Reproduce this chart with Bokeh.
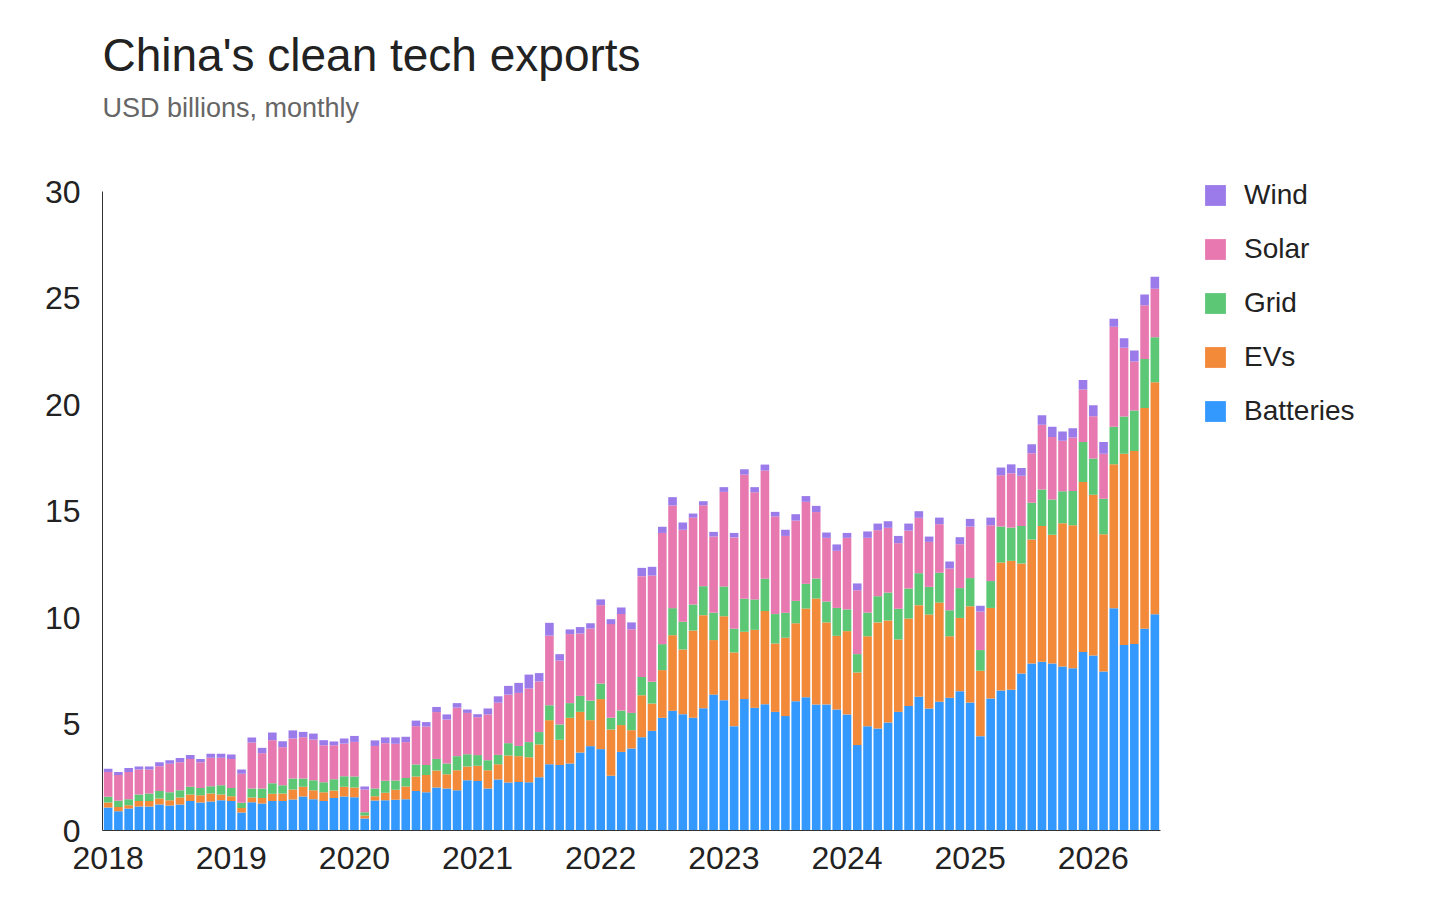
from bokeh.plotting import figure
from bokeh.models import Title, Legend, LegendItem, ColumnDataSource, FixedTicker
from bokeh.embed import file_html
from bokeh.resources import INLINE

months = [f"{2018 + i // 12}-{i % 12 + 1:02d}" for i in range(103)]
years = ["2018", "2019", "2020", "2021", "2022", "2023", "2024", "2025", "2026"]

batteries = [1.08,.90,1.03,1.13,1.13,1.22,1.17,1.22,1.39,1.31,1.36,1.42,1.38,.85,1.33,1.27,1.38,1.38,1.46,1.60,1.47,1.38,1.52,1.60,
 1.56,.56,1.41,1.42,1.44,1.47,1.85,1.80,2.02,1.97,1.89,2.36,2.32,1.97,2.39,2.25,2.28,2.27,2.50,3.11,3.07,3.15,3.66,3.96,
 3.82,2.57,3.69,3.85,4.38,4.68,5.29,5.62,5.46,5.29,5.74,6.38,6.12,4.90,6.17,5.76,5.93,5.57,5.37,6.07,6.26,5.92,5.92,5.68,
 5.45,4.01,4.90,4.79,5.07,5.57,5.84,6.28,5.73,6.04,6.23,6.54,6.01,4.43,6.20,6.57,6.61,7.37,7.84,7.92,7.84,7.70,7.62,8.38,
 8.22,7.47,10.44,8.71,8.76,9.47,10.15]
evs = [.23,.20,.16,.25,.25,.28,.25,.33,.30,.35,.38,.27,.23,.21,.22,.25,.34,.36,.46,.45,.42,.42,.36,.45,
 .46,.14,.20,.35,.47,.60,.69,.80,.80,.67,.94,.64,.72,.86,.72,1.27,1.21,1.17,1.54,2.07,1.19,2.14,1.91,1.22,
 2.35,2.17,1.26,.86,1.97,1.28,2.24,3.55,3.04,4.10,4.37,2.56,3.94,3.46,3.16,3.66,4.37,3.21,3.68,3.66,4.16,4.97,3.85,3.46,
 3.91,3.41,4.22,4.98,4.79,3.40,4.11,4.30,4.41,4.66,2.89,3.44,4.52,3.07,4.25,6.01,6.05,5.17,5.82,6.38,6.04,6.72,6.71,7.98,
 7.54,6.44,6.75,8.98,9.06,10.37,10.90]
grid = [.27,.30,.28,.31,.36,.36,.38,.34,.36,.34,.34,.44,.39,.24,.42,.45,.50,.39,.52,.39,.47,.47,.53,.50,
 .51,.16,.36,.56,.44,.40,.56,.47,.54,.51,.66,.58,.50,.47,.44,.58,.48,.71,.58,.70,.72,.69,.75,.92,
 .73,.55,.68,.81,.86,1.02,1.22,1.27,1.30,1.22,1.36,1.29,1.40,1.11,1.55,1.43,1.52,1.38,1.17,1.05,1.16,.94,.98,1.31,
 1.02,.86,1.11,1.23,1.31,1.44,1.41,1.50,1.30,1.40,1.22,1.40,1.32,.97,1.26,1.69,1.56,1.76,1.73,1.71,1.66,1.51,1.61,1.88,
 1.70,1.67,1.76,1.75,1.90,2.30,2.11]
solar = [1.17,1.20,1.28,1.17,1.12,1.16,1.33,1.31,1.31,1.20,1.33,1.28,1.36,1.36,2.16,1.66,2.02,1.78,1.88,1.94,1.91,1.73,1.59,1.53,
 1.63,1.06,2.00,1.77,1.72,1.68,1.80,1.81,2.20,2.06,2.28,1.94,1.78,2.15,2.45,2.28,2.49,2.52,2.38,3.27,3.00,3.24,2.93,3.38,
 3.68,4.40,4.53,3.93,4.73,4.99,5.22,4.82,4.32,4.08,3.80,3.57,4.44,4.29,5.83,5.03,5.08,4.58,3.61,3.77,3.85,3.12,2.99,2.68,
 3.36,3.00,3.51,3.10,3.04,3.08,2.72,2.60,2.11,2.28,1.96,2.06,2.42,1.81,2.62,2.41,2.55,2.35,2.32,3.04,2.94,2.37,2.51,2.47,
 1.99,2.11,4.70,3.22,2.30,2.52,2.27]
wind = [.15,.15,.19,.14,.14,.18,.17,.20,.19,.16,.19,.19,.21,.20,.24,.25,.36,.28,.38,.25,.28,.24,.18,.24,
 .28,.15,.26,.27,.30,.25,.26,.21,.24,.24,.21,.16,.14,.28,.30,.41,.47,.65,.39,.60,.30,.22,.30,.25,
 .27,.23,.31,.32,.39,.41,.29,.39,.34,.19,.19,.22,.22,.21,.25,.24,.28,.22,.29,.30,.27,.29,.25,.30,
 .23,.32,.30,.31,.31,.34,.33,.31,.25,.31,.33,.33,.36,.27,.36,.36,.42,.37,.42,.45,.47,.43,.43,.44,
 .52,.55,.38,.45,.52,.50,.57]

series = ["Batteries", "EVs", "Grid", "Solar", "Wind"]
colors = ["#3399FF", "#F28A3A", "#5CC775", "#E879B0", "#9B7BEA"]
FONT = "Liberation Sans"

src = ColumnDataSource(dict(x=list(range(len(months))), month=months, Batteries=batteries,
                            EVs=evs, Grid=grid, Solar=solar, Wind=wind))

p = figure(frame_width=1058, frame_height=639, output_backend="svg", toolbar_location=None,
           x_range=(-0.55, 102.55), y_range=(0, 30), title=None,
           min_border_left=102, min_border_top=10, min_border_right=20, min_border_bottom=60)

rs = p.vbar_stack(series, x="x", width=0.84, color=colors, source=src, line_color=None)

p.add_layout(Title(text=" ", text_font=FONT, text_font_size="46px", align="left"), "above")
p.add_layout(Title(text="USD billions, monthly", text_font=FONT, text_font_size="27px",
                   text_color="#666666", text_font_style="normal", align="left", offset=0), "above")
p.add_layout(Title(text="China's clean tech exports", text_font=FONT, text_font_size="46px",
                   text_color="#222222", text_font_style="normal", align="left", offset=0), "above")
p.add_layout(Title(text=" ", text_font=FONT, text_font_size="8px", align="left"), "above")

p.xgrid.visible = False
p.ygrid.visible = False
p.outline_line_color = None

p.yaxis.ticker = FixedTicker(ticks=[0, 5, 10, 15, 20, 25, 30])
p.yaxis.major_tick_line_color = None
p.yaxis.minor_tick_line_color = None
p.yaxis.axis_line_color = "#333333"
p.yaxis.major_label_text_font = FONT
p.yaxis.major_label_text_font_size = "32px"
p.yaxis.major_label_text_color = "#222222"
p.yaxis.major_label_standoff = 16

p.xaxis.ticker = FixedTicker(ticks=[i * 12 for i in range(len(years))])
p.xaxis.major_label_overrides = {i * 12: y for i, y in enumerate(years)}
p.xaxis.major_tick_line_color = None
p.xaxis.minor_tick_line_color = None
p.xaxis.axis_line_color = "#333333"
p.xaxis.major_label_text_font = FONT
p.xaxis.major_label_text_font_size = "32px"
p.xaxis.major_label_text_color = "#222222"
p.xaxis.major_label_standoff = 10

items = [LegendItem(label=s, renderers=[r]) for s, r in zip(series, rs)][::-1]
legend = Legend(items=items, location=(42, 403), label_text_font=FONT, label_text_font_size="28px",
                label_text_color="#222222", glyph_width=26, glyph_height=26, spacing=22,
                label_standoff=16, padding=0, margin=0, border_line_color=None,
                background_fill_alpha=0)
p.add_layout(legend, "right")

html = file_html(p, INLINE)
open("out.html", "w").write(html)
